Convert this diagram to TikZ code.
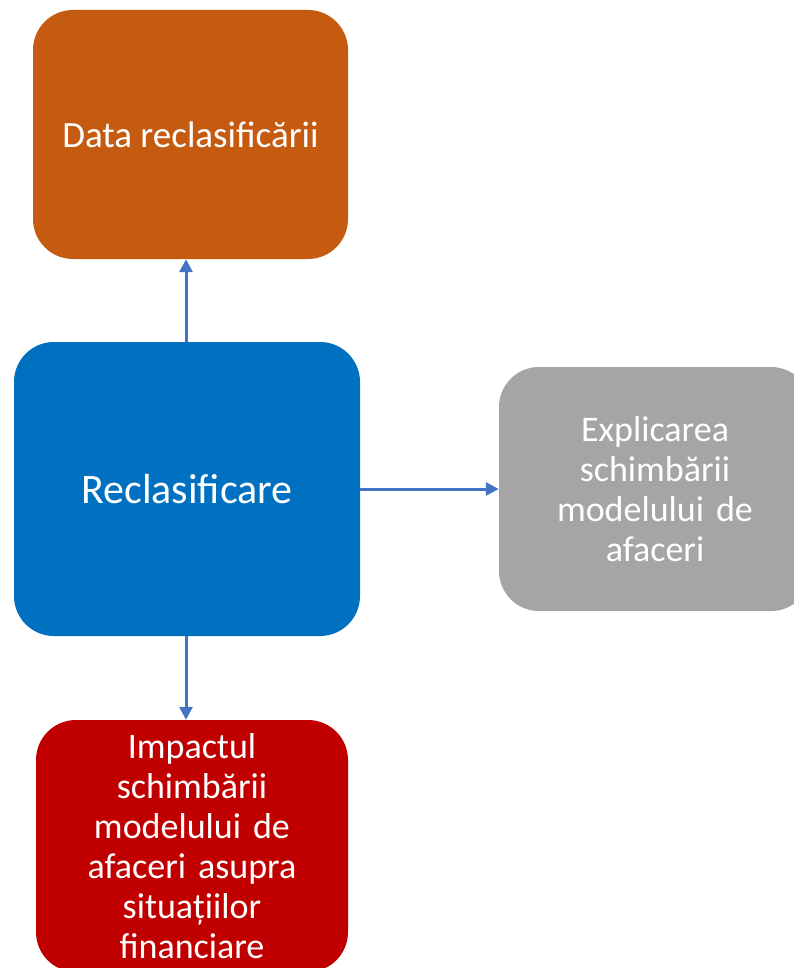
\documentclass[tikz,border=0pt]{standalone}
\usepackage{fontspec}
\setmainfont{Carlito}
\usepackage{tikz}
\usetikzlibrary{arrows.meta}

\definecolor{boxorange}{HTML}{C55A11}
\definecolor{boxblue}{HTML}{0070C0}
\definecolor{boxgray}{HTML}{A5A5A5}
\definecolor{boxred}{HTML}{C00000}
\definecolor{linkblue}{HTML}{4472C4}

\begin{document}
\begin{tikzpicture}[x=1pt,y=-1pt,
    card/.style={rounded corners=40pt,text=white,align=center,inner sep=0pt},
    link/.style={linkblue,line width=3pt,-{Triangle[length=13pt,width=13pt]}}]
  \useasboundingbox (0,0) rectangle (794,968);
  % the four cards
  \node[card,fill=boxorange,minimum width=315pt,minimum height=249pt,
        font=\fontsize{37}{44}\selectfont] (data) at (190.5,134.5) {Data reclasificării};
  \node[card,fill=boxblue,minimum width=346pt,minimum height=294pt,
        font=\fontsize{42}{50}\selectfont] (recl) at (187,489) {Reclasificare};
  \node[card,fill=boxgray,minimum width=312pt,minimum height=244pt,text width=240pt,
        font=\fontsize{36}{40}\selectfont] (expl) at (655,489)
        {Explicarea\\schimbării\\modelului de\\afaceri};
  \node[card,fill=boxred,minimum width=312pt,minimum height=252pt,text width=260pt,
        font=\fontsize{36}{40}\selectfont] (impact) at (192,846)
        {Impactul\\schimbării\\modelului de\\afaceri asupra\\situațiilor\\financiare};
  % connectors from the centre card
  \draw[link] ([xshift=-1pt]recl.north) -- ([xshift=-1pt]recl.north |- data.south);
  \draw[link] (recl.east) -- (expl.west);
  \draw[link] ([xshift=-1pt]recl.south) -- ([xshift=-1pt]recl.south |- impact.north);
\end{tikzpicture}
\end{document}
